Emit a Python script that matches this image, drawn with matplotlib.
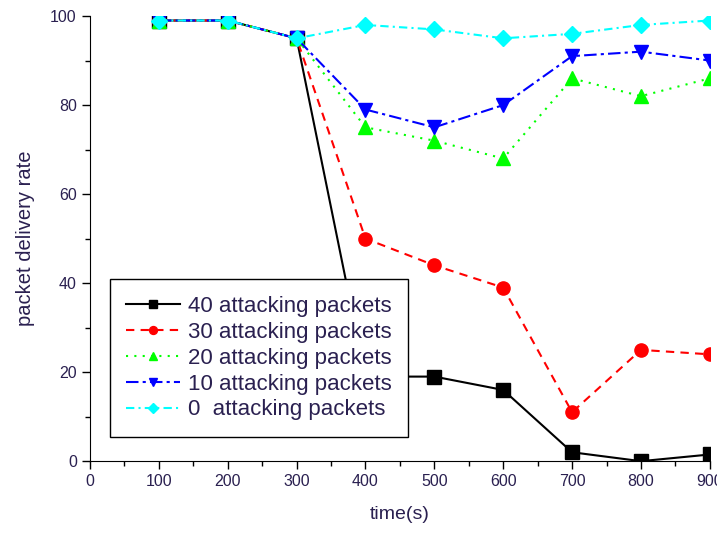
import matplotlib
matplotlib.use('Agg')
import matplotlib.pyplot as plt
from matplotlib.ticker import MultipleLocator

# Data
times = [100, 200, 300, 400, 500, 600, 700, 800, 900]
pdr_40 = [99, 99, 95, 19, 19, 16, 2, 0, 1.5]
pdr_30 = [99, 99, 95, 50, 44, 39, 11, 25, 24]
pdr_20 = [99, 99, 95, 75, 72, 68, 86, 82, 86]
pdr_10 = [99, 99, 95, 79, 75, 80, 91, 92, 90]
pdr_0 = [99, 99, 95, 98, 97, 95, 96, 98, 99]
labels = ['40 attacking packets', '30 attacking packets', '20 attacking packets',
          '10 attacking packets', '0  attacking packets']

plt.rcParams['font.family'] = ['Liberation Sans', 'DejaVu Sans']
text_col = '#2a2050'

fig = plt.figure(figsize=(7.17, 5.35), dpi=100)
ax = fig.add_axes([0.1255, 0.138, 0.8645, 0.832])

styles = [
    (pdr_40, 'black', '-', 's'),
    (pdr_30, 'red', (0, (4, 3)), 'o'),
    (pdr_20, '#00ff00', (0, (1, 3)), '^'),
    (pdr_10, 'blue', (0, (6, 2, 1.5, 2)), 'v'),
    (pdr_0, 'cyan', (0, (4, 2, 1, 2)), 'D'),
]
for (vals, col, ls, mk), lab in zip(styles, labels):
    ms = 8 if mk == 'D' else 9.5
    ax.plot(times, vals, color=col, linestyle=ls, linewidth=1.5,
            marker=mk, markersize=ms, markeredgecolor=col, label=lab)

ax.set_xlim(0, 900)
ax.set_ylim(0, 100)
ax.xaxis.set_major_locator(MultipleLocator(100))
ax.xaxis.set_minor_locator(MultipleLocator(50))
ax.yaxis.set_major_locator(MultipleLocator(20))
ax.yaxis.set_minor_locator(MultipleLocator(10))
ax.tick_params(which='major', length=6, width=1, labelsize=11.5, colors='black',
               labelcolor=text_col)
ax.tick_params(which='minor', length=3.5, width=1)
ax.spines['top'].set_visible(False)
ax.spines['right'].set_visible(False)

ax.set_xlabel('time(s)', fontsize=14, color=text_col, labelpad=12)
ax.set_ylabel('packet delivery rate', fontsize=14.5, color=text_col, labelpad=11)

leg = ax.legend(loc='lower left', bbox_to_anchor=(0.032, 0.054), borderaxespad=0,
                fontsize=16, frameon=True, fancybox=False, framealpha=1,
                edgecolor='black', numpoints=1, markerscale=0.6,
                handlelength=2.4, labelspacing=0.22, borderpad=0.75,
                handletextpad=0.35)
leg.get_frame().set_linewidth(1.0)
for t in leg.get_texts():
    t.set_color(text_col)

fig.savefig('out.png', dpi=100)
